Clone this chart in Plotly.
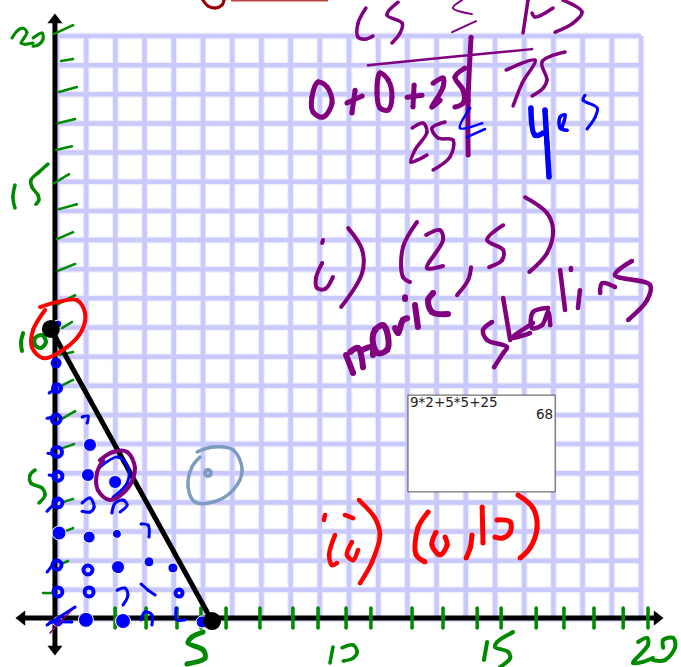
import plotly.graph_objects as go

# everything is in grid units: the graph paper runs 0..20 on both axes
INK_RED = "#ff0000"
INK_DARK_RED = "#990000"
INK_PURPLE = "#800080"
INK_BLUE = "#0000ff"
INK_GREEN = "#008a00"
INK_SLATE = "#7c9cc0"
GRID = "#c9c9fd"
GRID_EDGE = "#f0f0f8"

grid_values = list(range(0, 21))

# constraint segment and its two corner points
line_x = [-0.21, 5.31]
line_y = [9.95, -0.07]

# axes
axis_v_x = [-0.07, -0.07]
axis_v_y = [20.55, -1.03]
axis_h_x = [-1.20, 20.55]
axis_h_y = [0.03, 0.03]

# green tick marks
x_tick_pos = [1.99, 3.05, 4.11, 4.93, 5.79, 6.95, 8.08, 8.94, 9.90, 10.75, 12.16,
              13.22, 14.39, 15.21, 16.41, 17.36, 18.39, 19.39, 20.24]
y_ticks = [
    [(-0.10, 20.07), (0.55, 20.37)], [(0.14, 19.14), (0.55, 19.21)],
    [(0.07, 18.08), (0.68, 18.25)], [(0.03, 17.01), (0.62, 17.15)],
    [(-0.03, 16.09), (0.51, 16.22)], [(-0.10, 14.95), (0.41, 15.26)],
    [(0.07, 14.06), (0.68, 14.23)], [(0.00, 13.03), (0.55, 13.27)],
    [(0.03, 11.94), (0.62, 12.18)], [(0.03, 10.80), (0.62, 11.11)],
    [(0.17, 9.98), (0.51, 10.19)], [(0.10, 9.06), (0.55, 9.16)],
    [(0.21, 8.03), (0.55, 8.20)], [(0.21, 6.89), (0.62, 7.13)],
    [(0.21, 5.87), (0.58, 6.00)], [(0.21, 4.01), (0.55, 4.12)],
    [(0.21, 2.98), (0.55, 3.12)], [(0.21, 1.92), (0.38, 1.99)],
    [(-0.48, 0.89), (-0.14, 0.89)],
]

# handwritten axis numbers
num_y20 = [[(-1.54, 19.93), (-1.37, 20.17), (-1.16, 20.27), (-1.03, 20.13), (-1.13, 19.93),
            (-1.23, 19.76), (-1.10, 19.72), (-0.82, 19.76)],
           [(-0.82, 19.93), (-0.51, 20.10), (-0.48, 19.89), (-0.65, 19.69), (-0.82, 19.65)]]
num_y15 = [[(-1.44, 14.89), (-1.51, 14.47), (-1.44, 14.10)],
           [(-0.31, 15.61), (-0.62, 15.33), (-0.89, 15.06), (-0.86, 14.82), (-0.65, 14.54),
            (-0.62, 14.37), (-0.72, 14.23)]]
num_y10 = [[(-1.16, 9.81), (-1.23, 9.50), (-1.20, 9.19)],
           [(-0.75, 9.64), (-0.51, 9.74), (-0.38, 9.50), (-0.55, 9.30), (-0.75, 9.40), (-0.75, 9.64)]]
num_y5 = [[(-0.75, 5.11), (-0.92, 4.94), (-0.89, 4.66), (-0.51, 4.49), (-0.41, 4.25), (-0.62, 3.98)]]
num_x5 = [[(5.00, -0.45), (4.62, -0.62), (4.49, -0.82), (5.00, -1.06), (5.07, -1.34), (4.45, -1.54)]]
num_x10 = [[(9.45, -0.96), (9.35, -1.51)],
           [(9.76, -0.99), (10.14, -0.89), (10.28, -1.13), (10.14, -1.34), (9.80, -1.44)]]
num_x15 = [[(14.73, -0.79), (14.62, -1.41)],
           [(15.62, -0.45), (15.07, -0.79), (15.00, -0.96), (15.45, -1.13), (15.52, -1.34), (15.17, -1.65)]]
num_x20 = [[(19.90, -0.79), (20.21, -0.65), (20.24, -0.89), (19.73, -1.51), (20.07, -1.47), (20.41, -1.34)],
           [(20.76, -0.99), (20.76, -0.72), (21.10, -0.65), (21.17, -0.96), (20.82, -1.41), (20.41, -1.41)]]

# feasible points marked by hand
solid_x = [0.03, 1.13, 1.06, 1.10, 0.07, 1.99, 2.05, 2.09, 2.26, 0.99, 3.15, 3.97, 4.97, 0.03]
solid_y = [10.12, 5.97, 4.94, 2.81, 2.95, 4.70, 2.92, 1.78, -0.07, -0.03, 1.96, 1.75, -0.10, -0.10]
solid_d = [8, 13, 13, 12, 14, 13, 9, 13, 15, 15, 10, 10, 12, 10]
ring_x = [-0.03, 0.00, -0.03, 0.00, 0.03, 0.03, 0.00, 0.03, 1.06, 1.10, 4.18]
ring_y = [8.78, 7.92, 6.86, 5.73, 4.90, 3.98, 1.85, 0.93, 1.68, 0.93, 0.89]
ring_d = [7, 8, 9, 10, 9, 9, 9, 9, 9, 9, 7]
hooks = [
    [(-0.27, 7.75), (0.00, 7.92)], [(-0.34, 6.89), (-0.07, 6.93)], [(-0.31, 5.69), (-0.03, 5.63)],
    [(-0.27, 4.94), (-0.03, 4.90)], [(-0.34, 3.70), (0.03, 4.08)], [(-0.34, 1.61), (-0.07, 1.96)],
    [(-0.34, -0.21), (0.62, 0.41)], [(-0.24, -0.10), (0.51, -0.10)],
    [(0.86, 6.93), (1.06, 6.96), (1.03, 6.72)],
    [(0.86, 3.98), (1.13, 4.15), (1.27, 3.84), (1.13, 3.67), (0.86, 3.70)],
    [(1.88, 3.64), (1.99, 3.98), (2.26, 4.08), (2.40, 3.91), (2.16, 3.67)],
    [(2.06, 0.99), (2.33, 1.06), (2.43, 0.82), (2.26, 0.48)],
    [(2.88, 3.26), (3.12, 3.22), (3.15, 2.81)],
    [(2.88, 1.20), (3.12, 0.99), (3.36, 0.82)],
    [(2.88, -0.03), (3.01, 0.24), (3.25, 0.14), (3.25, -0.21)],
    [(4.08, 0.38), (4.11, -0.03), (4.38, -0.03)],
    [(1.47, 5.21), (2.09, 5.56), (2.43, 5.21), (2.40, 4.66), (1.92, 4.18)],
]
origin_slash = [[(-0.24, -0.48), (0.51, 0.31)]]

# test point and circles
test_point_x = [5.17]
test_point_y = [5.01]
circle_test = [[(4.80, 5.73), (5.34, 5.90), (6.03, 5.80), (6.34, 5.11), (6.03, 4.42), (5.34, 4.01),
                (4.73, 4.01), (4.49, 4.53), (4.62, 5.21), (4.90, 5.56)]]
circle_red = [[(-0.58, 10.70), (0.00, 10.87), (0.68, 10.94), (0.96, 10.50), (0.86, 9.91), (0.34, 9.33),
               (-0.48, 8.95), (-0.86, 9.33), (-0.82, 9.91), (-0.41, 10.60)]]
circle_purple = [[(1.47, 5.45), (1.92, 5.73), (2.40, 5.73), (2.67, 5.18), (2.43, 4.49), (1.82, 4.08),
                  (1.40, 4.42), (1.37, 5.01), (1.58, 5.45)]]

# working at the top right
ink_ls = [[(10.58, 20.96), (10.31, 20.44), (10.31, 19.96), (10.55, 19.89), (10.82, 20.00)],
          [(11.68, 21.16), (11.30, 20.72), (11.82, 20.44), (11.75, 20.10), (11.47, 19.76)]]
ink_le = [[(13.87, 21.23), (13.56, 20.96), (14.21, 20.75)], [(13.53, 20.13), (14.35, 20.51)]]
ink_rs = [[(16.13, 21.23), (15.96, 20.10)], [(16.99, 20.96), (16.37, 20.65), (16.27, 20.79)],
          [(17.33, 21.23), (17.98, 20.82), (17.67, 20.44), (17.06, 20.13)]]
ink_bar = [[(10.65, 19.00), (13.46, 19.28), (16.27, 19.55)]]
ink_divider = [[(14.18, 19.96), (14.08, 17.80), (14.08, 15.92)]]
ink_lhs = [[(8.94, 18.42), (8.73, 17.90), (8.77, 17.39), (9.11, 17.22), (9.42, 17.70), (9.25, 18.25), (8.94, 18.42)],
           [(9.93, 17.70), (10.45, 17.94)], [(10.21, 18.14), (10.10, 17.36)],
           [(11.06, 18.73), (10.96, 18.04), (11.06, 17.53), (11.34, 17.46), (11.47, 17.90), (11.34, 18.49), (11.06, 18.73)],
           [(12.23, 18.32), (12.19, 17.56)], [(11.99, 17.90), (12.50, 17.97)],
           [(12.88, 18.38), (13.22, 18.56), (13.22, 18.25), (12.84, 17.56), (13.12, 17.80)],
           [(13.97, 18.90), (13.63, 18.59), (13.91, 18.14), (13.91, 17.70), (13.63, 17.56)]]
ink_75 = [[(15.38, 18.83), (16.37, 19.17), (15.93, 18.38), (15.62, 17.60)],
          [(17.40, 19.45), (16.61, 19.11), (16.78, 18.49), (16.65, 18.21), (16.27, 17.94)]]
ink_25 = [[(12.16, 16.84), (12.54, 17.01), (12.67, 16.70), (12.26, 16.09), (12.12, 15.68), (12.33, 15.74), (12.67, 15.92)],
          [(13.29, 17.05), (12.84, 16.84), (13.05, 16.50), (13.56, 16.43), (13.46, 15.85), (12.88, 15.40)]]
ink_blue_le = [[(14.15, 17.53), (13.80, 16.84), (14.56, 17.01)], [(14.04, 16.53), (14.66, 16.81)]]
ink_yes_y = [[(16.23, 17.53), (16.37, 16.60), (16.65, 16.67)], [(16.71, 17.46), (16.78, 16.33), (16.85, 15.16)]]
ink_yes_e = [[(17.30, 16.88), (17.40, 17.29), (17.23, 17.22), (17.23, 16.84), (17.47, 16.77)]]
ink_yes_s = [[(18.08, 17.97), (18.02, 17.80), (18.50, 17.53), (18.43, 17.22), (18.15, 16.81)]]

# answers
ink_i = [[(9.11, 13.00), (9.08, 12.90)],
         [(9.08, 12.21), (8.87, 11.70), (8.91, 11.35), (9.18, 11.32), (9.45, 11.73)],
         [(9.97, 13.41), (10.45, 12.66), (10.45, 11.87), (9.73, 10.70)]]
ink_answer = [[(12.33, 13.62), (11.85, 12.76), (11.85, 11.73), (12.09, 11.56)],
              [(12.64, 13.17), (13.12, 13.34), (13.22, 13.00), (12.67, 12.04), (13.22, 12.11)],
              [(14.18, 12.07), (14.08, 11.63), (13.70, 11.11)],
              [(15.28, 13.51), (14.73, 13.00), (15.28, 12.66), (15.24, 12.31), (14.80, 12.07)],
              [(16.03, 14.47), (16.78, 13.93), (16.99, 13.34), (16.78, 12.55), (16.17, 11.90)]]
ink_movie = [[(9.90, 9.06), (10.14, 8.44)],
             [(10.04, 9.16), (10.31, 9.30), (10.48, 8.64)],
             [(10.45, 9.23), (10.79, 9.33), (10.82, 9.06)],
             [(10.89, 9.91), (11.17, 10.08), (11.34, 9.67), (11.30, 9.23), (10.99, 9.12), (10.82, 9.47), (10.89, 9.91)],
             [(11.58, 9.98), (11.68, 9.81), (11.85, 10.26), (11.99, 10.32)],
             [(12.26, 10.77), (12.36, 10.02)], [(11.92, 11.04), (11.92, 10.98)],
             [(12.88, 11.18), (12.71, 10.94), (12.84, 10.53), (13.39, 10.46)]]
ink_skating = [[(14.90, 10.19), (14.59, 9.91), (14.73, 9.57), (15.41, 9.33), (15.28, 9.12), (14.97, 8.64)],
               [(15.28, 11.01), (15.52, 9.57)], [(16.30, 10.15), (15.58, 9.64), (16.20, 9.81)],
               [(16.82, 10.67), (16.30, 10.53), (16.27, 9.98), (16.61, 10.08), (16.82, 10.53), (16.89, 10.08)],
               [(17.23, 11.97), (17.40, 10.60)],
               [(17.91, 11.28), (17.84, 10.67)], [(17.60, 12.04), (17.60, 11.97)],
               [(18.60, 11.18), (18.67, 11.52), (19.11, 11.39)],
               [(19.69, 12.28), (19.11, 11.80), (20.31, 11.46), (20.21, 10.94), (19.56, 10.26)]]
ink_ii = [[(9.18, 3.57), (9.14, 3.40)], [(9.52, 2.88), (9.32, 2.20), (9.42, 1.85), (9.59, 1.92)],
          [(9.86, 3.57), (10.14, 3.46)], [(10.10, 2.64), (9.93, 2.20), (10.14, 2.02), (10.31, 2.37)],
          [(10.34, 4.08), (10.89, 3.46), (11.06, 2.88), (10.79, 1.96), (10.38, 1.23)]]
ink_answer2 = [[(12.71, 3.67), (12.36, 3.12), (12.30, 2.20), (12.60, 1.96)],
               [(12.98, 2.98), (12.84, 2.54), (13.12, 2.20), (13.36, 2.54), (13.29, 2.81)],
               [(14.21, 2.88), (14.15, 2.44), (14.01, 2.09)],
               [(14.56, 3.84), (14.59, 2.61)],
               [(15.07, 3.40), (15.52, 3.33), (15.52, 2.98), (15.28, 2.78), (15.00, 2.81)],
               [(15.79, 4.25), (16.30, 3.81), (16.44, 3.12), (16.20, 2.44), (15.86, 2.09)]]

# cut off at the top of the page
ink_top_arc = [[(5.00, 21.23), (5.17, 21.03), (5.41, 20.96), (5.65, 21.06), (5.72, 21.23)]]
ink_top_bar = [[(5.99, 21.22), (9.25, 21.22)]]

# calculator screen
calc_x = [12.02, 17.06, 17.06, 12.02, 12.02]
calc_y = [7.68, 7.68, 4.36, 4.36, 7.68]
calc_input = "9*2+5*5+25"
calc_result = "68"

fig = go.Figure()


def ink(strokes, color, width, name):
    # one trace per word, strokes split by None
    xs, ys = [], []
    for stroke in strokes:
        xs += [p[0] for p in stroke] + [None]
        ys += [p[1] for p in stroke] + [None]
    fig.add_trace(go.Scatter(
        x=xs, y=ys, mode="lines+markers", name=name,
        line=dict(color=color, width=width, shape="spline", smoothing=1),
        marker=dict(color=color, size=width)
    ))


def grid(color, width):
    xs, ys = [], []
    for v in grid_values:
        xs += [v, v, None, 0, 20, None]
        ys += [0, 20, None, v, v, None]
    fig.add_trace(go.Scatter(x=xs, y=ys, mode="lines", name="grid", line=dict(color=color, width=width)))


grid(GRID_EDGE, 7)
grid(GRID, 4.5)

fig.add_trace(go.Scatter(x=calc_x, y=calc_y, mode="lines", fill="toself", fillcolor="white", name="calculator",
                         line=dict(color="#505050", width=1)))
fig.add_annotation(x=calc_x[0], y=calc_y[0], text=calc_input, showarrow=False, xanchor="left", yanchor="top",
                   xshift=0, yshift=3, font=dict(family="DejaVu Sans", size=13.5, color="#222222"))
fig.add_annotation(x=calc_x[1], y=calc_y[0], text=calc_result, showarrow=False, xanchor="right", yanchor="top",
                   xshift=0, yshift=-9, font=dict(family="DejaVu Sans", size=13.5, color="#222222"))

# axes first, so the ink sits on top
fig.add_trace(go.Scatter(x=axis_v_x, y=axis_v_y, mode="lines", name="y axis",
                         line=dict(color="black", width=5)))
fig.add_trace(go.Scatter(x=axis_h_x, y=axis_h_y, mode="lines", name="x axis",
                         line=dict(color="black", width=5)))
fig.add_trace(go.Scatter(x=[axis_v_x[0], axis_v_x[1], axis_h_x[0], axis_h_x[1]],
                         y=[axis_v_y[0], axis_v_y[1], axis_h_y[0], axis_h_y[1]],
                         mode="markers", name="arrows",
                         marker=dict(color="black", size=13, opacity=1,
                                     symbol=["triangle-up", "triangle-down", "triangle-left", "triangle-right"])))

ink([[(x, 0.38), (x, -0.31)] for x in x_tick_pos], INK_GREEN, 3.5, "x ticks")
ink(y_ticks, INK_GREEN, 2.5, "y ticks")
ink(num_y20, INK_GREEN, 3, "20")
ink(num_y15, INK_GREEN, 3.5, "15")
ink(num_y10, INK_GREEN, 4, "10")
ink(num_y5, INK_GREEN, 3.5, "5")
ink(num_x5, INK_GREEN, 5, "5")
ink(num_x10, INK_GREEN, 3.5, "10")
ink(num_x15, INK_GREEN, 4, "15")
ink(num_x20, INK_GREEN, 4, "20")

fig.add_trace(go.Scatter(x=line_x, y=line_y, mode="lines", name="constraint",
                         line=dict(color="black", width=5)))
fig.add_trace(go.Scatter(x=solid_x, y=solid_y, mode="markers", name="feasible",
                         marker=dict(color=INK_BLUE, size=solid_d, opacity=1)))
fig.add_trace(go.Scatter(x=ring_x, y=ring_y, mode="markers", name="feasible",
                         marker=dict(color="rgba(0,0,0,0)", size=ring_d, opacity=1,
                                     line=dict(color=INK_BLUE, width=4))))
ink(hooks, INK_BLUE, 3, "feasible")
ink(origin_slash, INK_PURPLE, 1.5, "origin")
fig.add_trace(go.Scatter(x=line_x, y=line_y, mode="markers", name="corners",
                         marker=dict(color="black", size=18, opacity=1)))

fig.add_trace(go.Scatter(x=test_point_x, y=test_point_y, mode="markers", name="test point",
                         marker=dict(color="rgba(0,0,0,0)", size=6, opacity=1, line=dict(color=INK_SLATE, width=4))))
ink(circle_test, INK_SLATE, 3.5, "test circle")
ink(circle_red, INK_RED, 4, "(0,10)")
ink(circle_purple, INK_PURPLE, 4, "(2,5)")

ink(ink_ls, INK_PURPLE, 3.5, "LS")
ink(ink_le, INK_PURPLE, 2, "<=")
ink(ink_rs, INK_PURPLE, 3.5, "RS")
ink(ink_bar, INK_PURPLE, 2.5, "bar")
ink(ink_divider, INK_PURPLE, 5, "divider")
ink(ink_lhs, INK_PURPLE, 5, "0+0+25")
ink(ink_75, INK_PURPLE, 3.5, "75")
ink(ink_25, INK_PURPLE, 3.5, "25")
ink(ink_blue_le, INK_BLUE, 2.5, "<=")
ink(ink_yes_y, INK_BLUE, 5.5, "yes")
ink(ink_yes_e, INK_BLUE, 3.5, "yes")
ink(ink_yes_s, INK_BLUE, 3, "yes")

ink(ink_i, INK_PURPLE, 4, "i)")
ink(ink_answer, INK_PURPLE, 4, "(2,5)")
ink(ink_movie, INK_PURPLE, 6, "movie")
ink(ink_skating, INK_PURPLE, 4.5, "skating")
ink(ink_ii, INK_RED, 4.5, "ii)")
ink(ink_answer2, INK_RED, 5, "(0,10)")

ink(ink_top_arc, INK_DARK_RED, 3, "top")
ink(ink_top_bar, "#b84444", 2, "top")

# the page is exactly the picture: one grid unit is 29.2 px across and 29.15 px down
fig.update_layout(
    width=681, height=667,
    margin=dict(l=0, r=0, t=0, b=0),
    paper_bgcolor="white", plot_bgcolor="white",
    showlegend=False,
    xaxis=dict(range=[-1.952, 21.370], showgrid=False, zeroline=False, visible=False),
    yaxis=dict(range=[-1.647, 21.235], showgrid=False, zeroline=False, visible=False),
)

fig.write_html("out.html", config=dict(displayModeBar=False),
               post_script="document.body.style.margin='0'")
